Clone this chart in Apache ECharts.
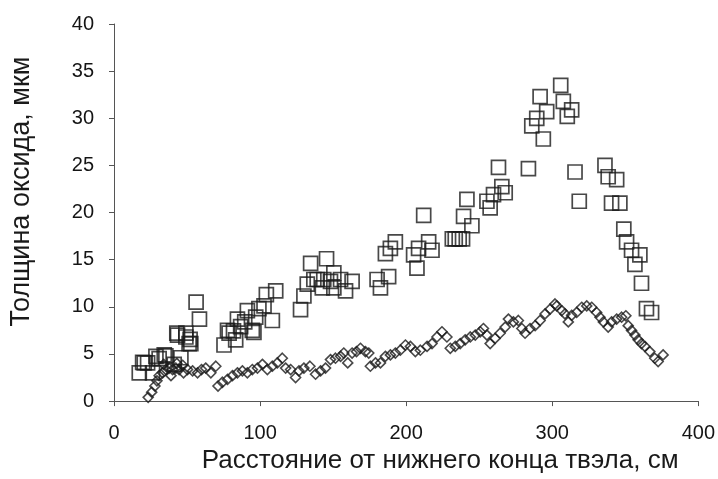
<!DOCTYPE html>
<html>
<head>
<meta charset="utf-8">
<script src="https://cdn.jsdelivr.net/npm/echarts@6/dist/echarts.min.js"></script>
<style>
html,body{margin:0;padding:0;background:#fff;overflow:hidden;}
#chart{width:718px;height:479px;}
</style>
</head>
<body>
<div id="chart"></div>
<script>
// Axis titles and tick values
var xAxisTitle = 'Расстояние от нижнего конца твэла, см';
var yAxisTitle = 'Толщина оксида, мкм';
var xTicks = [0, 100, 200, 300, 400];
var yTicks = [0, 5, 10, 15, 20, 25, 30, 35, 40];

// Series 1: open squares (x, y)
var squaresX = [17.3,19.6,20.7,23.0,26.4,28.7,30.9,34.4,35.5,41.2,45.8,43.0,43.5,49.2,49.2,52.1,51.4,52.6,56.2,58.5,
  75.3,78.8,77.7,81.8,83.3,84.5,86.7,89.5,91.3,94.7,95.8,97.0,99.2,102.7,104.3,108.4,110.7,
  127.7,130.0,132.3,134.6,136.8,145.5,150.5,139.1,143.6,148.2,155.1,163.0,142.6,150.5,158.5,
  180.1,188.0,182.4,185.8,189.2,192.6,205.1,207.4,208.5,215.4,217.7,212.0,
  231.6,233.6,236.3,238.6,239.3,245.0,241.6,255.3,257.5,259.8,265.5,267.8,263.2,
  283.7,291.7,296.2,289.4,286.0,293.9,305.8,307.6,313.3,310.3,315.6,318.5,
  336.1,338.3,344.1,340.6,346.3,349.0,350.9,354.3,360.0,356.6,361.1,364.5,368.0];
var squaresY = [3.0,4.1,4.05,4.05,3.0,4.75,4.5,4.9,4.8,3.9,4.6,7.2,7.0,7.2,6.8,6.55,6.1,6.1,10.5,8.7,
  5.95,7.2,7.5,7.45,6.5,8.7,7.9,8.4,9.6,7.5,7.3,8.9,9.8,10.1,11.3,8.55,11.7,
  9.7,11.15,12.4,14.6,12.9,15.1,13.6,12.9,12.9,12.7,12.9,12.7,12.0,12.0,11.7,
  12.9,13.2,12.0,15.65,16.2,16.9,15.5,14.1,16.2,16.9,16.0,19.7,
  17.2,17.2,17.2,17.2,19.6,18.6,21.4,21.2,20.5,21.9,22.75,22.1,24.8,
  24.65,32.3,30.7,30.0,29.2,27.8,33.5,31.8,30.9,30.2,24.3,21.2,
  25.0,23.8,23.5,21.0,21.0,18.25,16.9,16.0,15.5,14.5,12.5,9.8,9.4];

// Series 2: open diamonds (x, y)
var diamondsX = [23.4,25.8,28.0,29.4,30.9,33.3,34.0,35.5,37.8,39.0,40.1,42.3,43.0,44.6,47.0,47.6,50.3,53.8,57.2,59.9,62.8,66.3,69.7,
  71.2,74.2,77.7,81.1,84.5,87.9,91.3,94.7,98.2,101.6,105.0,108.4,111.8,
  115.2,117.5,120.9,124.3,126.6,130.0,134.1,138.0,141.4,144.8,148.2,151.6,155.1,157.3,160.0,163.0,166.0,168.7,172.1,174.4,
  175.5,179.0,182.4,185.8,189.2,192.6,196.0,199.5,202.9,206.3,209.7,
  214.3,217.7,221.1,224.5,227.9,230.2,233.6,237.0,240.4,243.9,247.3,250.7,252.9,255.3,257.5,260.9,264.3,267.8,270.0,273.4,276.8,279.2,281.4,284.8,288.3,291.7,295.1,298.5,301.9,
  303.1,306.5,308.7,311.0,313.3,316.7,320.2,323.6,327.0,330.4,332.7,335.0,338.3,340.6,344.1,347.5,350.4,352.0,354.3,356.6,358.8,361.1,363.4,366.8,370.2,372.5,375.9];
var diamondsY = [0.4,0.95,1.6,2.15,2.7,3.0,3.9,3.35,3.5,2.7,3.35,3.5,4.0,3.35,3.8,3.0,3.35,3.2,3.0,3.35,3.5,3.0,3.7,
  1.6,2.0,2.3,2.7,3.0,3.2,3.0,3.35,3.5,3.9,3.35,3.7,4.05,
  4.55,3.5,3.35,2.5,3.2,3.5,3.7,2.85,3.2,3.5,4.4,4.55,4.75,5.1,4.05,5.1,5.25,5.6,5.25,5.1,
  3.7,4.05,4.05,4.75,4.9,5.1,5.4,5.95,5.8,5.25,5.4,
  5.8,6.1,6.8,7.35,6.8,5.6,5.8,6.1,6.5,6.8,7.0,7.35,7.7,7.0,6.1,6.65,7.2,7.85,8.7,8.4,8.55,7.7,7.2,7.7,8.0,8.55,9.25,9.75,10.3,
  10.1,9.6,9.25,8.4,9.1,9.4,9.95,10.1,9.95,9.4,8.9,8.4,7.85,8.4,8.7,8.9,9.05,8.0,7.5,7.0,6.5,6.1,5.8,5.25,4.55,4.2,4.9];

function pairs(xs, ys) {
  var out = [];
  for (var i = 0; i < xs.length; i++) out.push([xs[i], ys[i]]);
  return out;
}

var chart = echarts.init(document.getElementById('chart'), null, {renderer: 'canvas', width: 718, height: 479});
var font = 'Liberation Sans, Arial, sans-serif';
var ink = '#1a1a1a';

chart.setOption({
  animation: false,
  backgroundColor: '#ffffff',
  grid: {left: 113, right: 19, top: 24, bottom: 70, containLabel: false},
  xAxis: {
    type: 'value',
    min: xTicks[0], max: xTicks[xTicks.length - 1], interval: 100,
    name: xAxisTitle,
    nameLocation: 'middle',
    nameGap: 40,
    nameTextStyle: {fontFamily: font, fontSize: 26, color: ink, padding: [0, 0, 0, 68]},
    axisLine: {show: true, onZero: false, lineStyle: {color: '#555', width: 1}},
    axisTick: {show: true, inside: false, length: 5, lineStyle: {color: '#555', width: 1}},
    axisLabel: {fontFamily: font, fontSize: 20, color: '#151515', margin: 22},
    splitLine: {show: false}
  },
  yAxis: {
    type: 'value',
    min: yTicks[0], max: yTicks[yTicks.length - 1], interval: 5,
    name: yAxisTitle,
    nameLocation: 'middle',
    nameRotate: 90,
    nameGap: 79,
    nameTextStyle: {fontFamily: font, fontSize: 27, color: ink, padding: [0, 0, 0, 42]},
    axisLine: {show: true, onZero: false, lineStyle: {color: '#555', width: 1}},
    axisTick: {show: true, inside: false, length: 5, lineStyle: {color: '#555', width: 1}},
    axisLabel: {fontFamily: font, fontSize: 20, color: '#151515', margin: 20},
    splitLine: {show: false}
  },
  series: [
    {
      type: 'scatter',
      name: 'squares',
      symbol: 'rect',
      symbolSize: 14,
      data: pairs(squaresX, squaresY),
      itemStyle: {color: 'rgba(0,0,0,0)', borderColor: ink, borderWidth: 1.7}
    },
    {
      type: 'scatter',
      name: 'diamonds',
      symbol: 'diamond',
      symbolSize: 10,
      data: pairs(diamondsX, diamondsY),
      itemStyle: {color: 'rgba(0,0,0,0)', borderColor: ink, borderWidth: 1.6}
    }
  ]
});
</script>
</body>
</html>
